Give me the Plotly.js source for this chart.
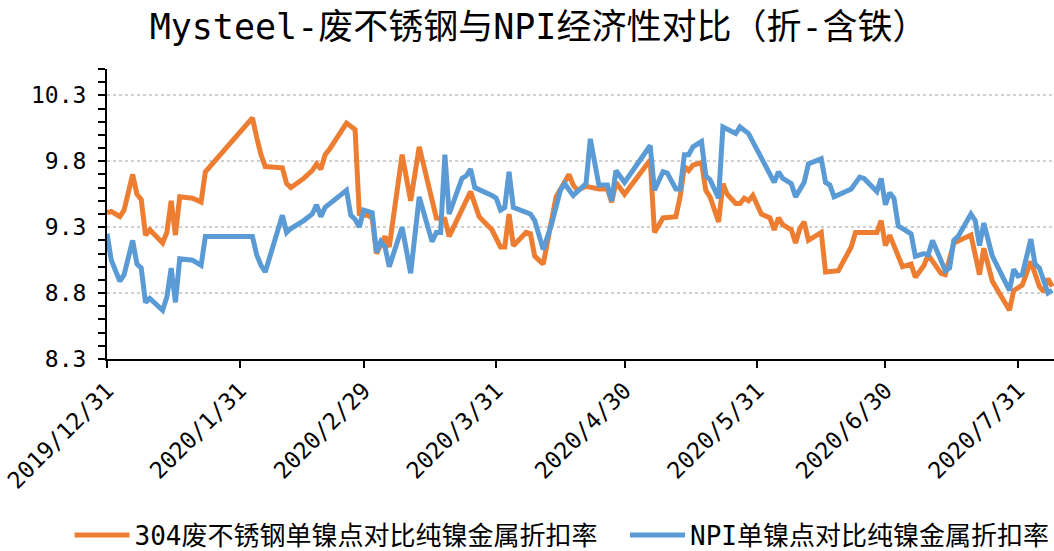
<!DOCTYPE html>
<html>
<head>
<meta charset="utf-8">
<script src="https://cdn.plot.ly/plotly-3.0.1.min.js"></script>
<style>html,body{margin:0;padding:0;background:#fff;}#chart{width:1054px;height:551px;}</style>
</head>
<body>
<div id="chart"></div>
<script>
const chartTitle = "Mysteel-废不锈钢与NPI经济性对比（折-含铁）";
const seriesNames = ["304废不锈钢单镍点对比纯镍金属折扣率", "NPI单镍点对比纯镍金属折扣率"];

const scrapDates = ["2019-12-31","2020-01-01","2020-01-03","2020-01-04","2020-01-06","2020-01-07","2020-01-08","2020-01-09","2020-01-10","2020-01-13","2020-01-14","2020-01-15","2020-01-16","2020-01-17","2020-01-20","2020-01-22","2020-01-23","2020-02-03","2020-02-04","2020-02-05","2020-02-06","2020-02-10","2020-02-11","2020-02-12","2020-02-15","2020-02-17","2020-02-18","2020-02-19","2020-02-20","2020-02-21","2020-02-25","2020-02-27","2020-02-28","2020-02-29","2020-03-01","2020-03-02","2020-03-03","2020-03-05","2020-03-06","2020-03-09","2020-03-11","2020-03-13","2020-03-17","2020-03-19","2020-03-20","2020-03-24","2020-03-25","2020-03-27","2020-03-30","2020-04-01","2020-04-02","2020-04-03","2020-04-04","2020-04-07","2020-04-08","2020-04-09","2020-04-11","2020-04-14","2020-04-17","2020-04-18","2020-04-19","2020-04-21","2020-04-24","2020-04-26","2020-04-27","2020-04-28","2020-04-30","2020-05-06","2020-05-07","2020-05-09","2020-05-12","2020-05-13","2020-05-14","2020-05-15","2020-05-16","2020-05-18","2020-05-19","2020-05-20","2020-05-22","2020-05-23","2020-05-24","2020-05-26","2020-05-27","2020-05-28","2020-05-29","2020-05-30","2020-06-01","2020-06-03","2020-06-04","2020-06-05","2020-06-06","2020-06-08","2020-06-09","2020-06-10","2020-06-11","2020-06-12","2020-06-15","2020-06-16","2020-06-19","2020-06-22","2020-06-23","2020-06-28","2020-06-29","2020-06-30","2020-07-01","2020-07-04","2020-07-06","2020-07-07","2020-07-09","2020-07-10","2020-07-13","2020-07-14","2020-07-16","2020-07-20","2020-07-22","2020-07-23","2020-07-25","2020-07-29","2020-07-30","2020-08-01","2020-08-03","2020-08-05","2020-08-06","2020-08-07","2020-08-08"];
const scrapValues = [9.41,9.42,9.38,9.43,9.70,9.55,9.51,9.24,9.28,9.18,9.26,9.50,9.24,9.53,9.52,9.49,9.72,10.13,9.98,9.85,9.76,9.75,9.63,9.60,9.67,9.73,9.78,9.74,9.85,9.89,10.09,10.04,9.40,9.39,9.39,9.37,9.10,9.23,9.15,9.85,9.50,9.91,9.37,9.36,9.23,9.50,9.57,9.38,9.28,9.15,9.15,9.40,9.16,9.26,9.25,9.08,9.02,9.53,9.70,9.62,9.58,9.61,9.59,9.59,9.49,9.64,9.55,9.81,9.26,9.37,9.38,9.53,9.76,9.73,9.77,9.79,9.58,9.53,9.34,9.63,9.55,9.48,9.48,9.52,9.50,9.54,9.40,9.37,9.28,9.37,9.32,9.28,9.18,9.29,9.34,9.20,9.26,8.96,8.97,9.15,9.26,9.26,9.35,9.16,9.24,9.00,9.02,8.92,9.01,9.09,8.95,8.94,9.18,9.24,8.94,9.14,8.89,8.67,8.82,8.86,9.04,8.85,8.81,8.91,8.85];

const npiDates = ["2019-12-31","2020-01-01","2020-01-03","2020-01-04","2020-01-06","2020-01-07","2020-01-08","2020-01-09","2020-01-10","2020-01-13","2020-01-14","2020-01-15","2020-01-16","2020-01-17","2020-01-20","2020-01-22","2020-01-23","2020-02-03","2020-02-04","2020-02-05","2020-02-06","2020-02-10","2020-02-11","2020-02-12","2020-02-15","2020-02-17","2020-02-18","2020-02-19","2020-02-20","2020-02-25","2020-02-26","2020-02-27","2020-02-28","2020-02-29","2020-03-01","2020-03-02","2020-03-03","2020-03-04","2020-03-05","2020-03-06","2020-03-09","2020-03-11","2020-03-13","2020-03-16","2020-03-17","2020-03-18","2020-03-19","2020-03-20","2020-03-23","2020-03-24","2020-03-25","2020-03-26","2020-03-30","2020-03-31","2020-04-01","2020-04-02","2020-04-03","2020-04-04","2020-04-08","2020-04-09","2020-04-11","2020-04-13","2020-04-15","2020-04-16","2020-04-18","2020-04-21","2020-04-22","2020-04-24","2020-04-26","2020-04-27","2020-04-28","2020-04-30","2020-05-06","2020-05-07","2020-05-09","2020-05-10","2020-05-12","2020-05-13","2020-05-14","2020-05-15","2020-05-16","2020-05-18","2020-05-19","2020-05-20","2020-05-22","2020-05-23","2020-05-26","2020-05-27","2020-05-29","2020-06-01","2020-06-04","2020-06-05","2020-06-06","2020-06-08","2020-06-09","2020-06-11","2020-06-12","2020-06-15","2020-06-16","2020-06-17","2020-06-18","2020-06-22","2020-06-24","2020-06-25","2020-06-28","2020-06-29","2020-06-30","2020-07-01","2020-07-02","2020-07-03","2020-07-06","2020-07-07","2020-07-09","2020-07-10","2020-07-11","2020-07-14","2020-07-15","2020-07-16","2020-07-17","2020-07-20","2020-07-21","2020-07-22","2020-07-23","2020-07-25","2020-07-28","2020-07-29","2020-07-30","2020-07-31","2020-08-01","2020-08-03","2020-08-04","2020-08-05","2020-08-07","2020-08-08"];
const npiValues = [9.25,9.05,8.89,8.94,9.20,9.02,8.99,8.73,8.76,8.67,8.77,8.99,8.73,9.06,9.05,9.01,9.23,9.23,9.09,9.01,8.96,9.39,9.26,9.29,9.35,9.40,9.47,9.38,9.45,9.58,9.39,9.36,9.30,9.43,9.42,9.41,9.11,9.19,9.15,9.00,9.30,8.95,9.53,9.19,9.26,9.26,9.85,9.40,9.67,9.69,9.74,9.60,9.54,9.52,9.43,9.45,9.72,9.45,9.40,9.35,9.13,9.33,9.58,9.63,9.54,9.63,9.97,9.62,9.62,9.50,9.73,9.64,9.92,9.58,9.72,9.71,9.59,9.59,9.85,9.85,9.91,9.95,9.69,9.66,9.52,10.06,10.01,10.06,10.01,9.82,9.64,9.72,9.67,9.63,9.53,9.64,9.78,9.82,9.64,9.62,9.53,9.59,9.68,9.67,9.57,9.67,9.47,9.56,9.52,9.31,9.25,9.08,9.10,9.09,9.20,8.97,8.99,9.20,9.23,9.40,9.35,9.16,9.33,9.08,8.90,8.82,8.98,8.93,8.94,9.21,9.02,8.99,8.80,8.82];

const xTickDates = ["2019-12-31","2020-01-31","2020-02-29","2020-03-31","2020-04-30","2020-05-31","2020-06-30","2020-07-31"];
const xTickLabels = ["2019/12/31","2020/1/31","2020/2/29","2020/3/31","2020/4/30","2020/5/31","2020/6/30","2020/7/31"];
const yTicks = [8.3, 8.8, 9.3, 9.8, 10.3];

const FONT = "'DejaVu Sans Mono', 'Noto Sans CJK SC', sans-serif";

const traces = [
  {x: scrapDates, y: scrapValues, name: seriesNames[0], type: "scatter", mode: "lines",
   line: {color: "#ED7D31", width: 5, shape: "linear"}, legend: "legend"},
  {x: npiDates, y: npiValues, name: seriesNames[1], type: "scatter", mode: "lines",
   line: {color: "#5B9BD5", width: 5, shape: "linear"}, legend: "legend2"}
];

const legendFont = {family: FONT, size: 26, color: "#000000"};

const layout = {
  width: 1054, height: 551,
  margin: {l: 107, r: 0, t: 69, b: 192, pad: 0},
  paper_bgcolor: "#ffffff", plot_bgcolor: "#ffffff",
  font: {family: FONT, color: "#000000"},
  title: {text: chartTitle, font: {family: FONT, size: 35, color: "#000000"},
          x: 0.511, xanchor: "center", xref: "container", y: 0.951, yanchor: "middle", yref: "container"},
  showlegend: true,
  legend: {orientation: "h", xref: "container", yref: "container", x: 0.066, xanchor: "left", y: 0.029, yanchor: "middle",
           font: legendFont, itemwidth: 55, bgcolor: "rgba(0,0,0,0)"},
  legend2: {orientation: "h", xref: "container", yref: "container", x: 0.593, xanchor: "left", y: 0.029, yanchor: "middle",
           font: legendFont, itemwidth: 55, bgcolor: "rgba(0,0,0,0)"},
  xaxis: {
    type: "date", range: ["2019-12-31", "2020-08-08 10:00"],
    tickmode: "array", tickvals: xTickDates, ticktext: xTickLabels,
    tickangle: -45, ticks: "outside", ticklen: 7, tickwidth: 2, tickcolor: "#000000",
    showline: true, linecolor: "#000000", linewidth: 2, showgrid: false, zeroline: false,
    tickfont: {family: FONT, size: 23, color: "#000000"}, automargin: false, fixedrange: true
  },
  yaxis: {
    range: [8.3, 10.5], tickmode: "array", tickvals: yTicks, tickformat: ".1f",
    ticks: "outside", ticklen: 7, tickwidth: 2, tickcolor: "#000000",
    minor: {dtick: 0.1, tick0: 8.3, ticks: "outside", ticklen: 7, tickwidth: 2, tickcolor: "#000000", showgrid: false},
    showline: true, linecolor: "#000000", linewidth: 2, zeroline: false,
    showgrid: true, gridcolor: "#d0d0d0", gridwidth: 2, griddash: "dot",
    tickfont: {family: FONT, size: 23, color: "#000000"}, ticklabelstandoff: 7,
    automargin: false, fixedrange: true
  }
};

Plotly.newPlot("chart", traces, layout, {staticPlot: true, displayModeBar: false});
</script>
</body>
</html>
